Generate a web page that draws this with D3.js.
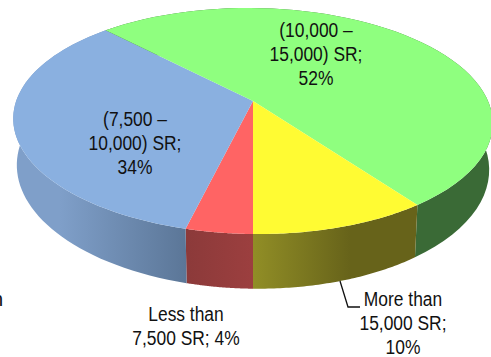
<!DOCTYPE html>
<html>
<head>
<meta charset="utf-8">
<script src="https://cdn.jsdelivr.net/npm/d3@7"></script>
<style>
  html, body { margin: 0; padding: 0; background: #fff; overflow: hidden; }
  text { font-family: "Liberation Sans", Arial, sans-serif; font-size: 20px; fill: #111; }
</style>
</head>
<body>
<div id="chart"></div>
<script>
// chart data, shares are read from the slice edges
var categories = ["Less than 7,500 SR", "(7,500 – 10,000) SR", "(10,000 – 15,000) SR", "More than 15,000 SR"];
var shares = [3.8, 33.8, 52.2, 10.2];
var labelLines = [
  ["Less than", "7,500 SR; 4%"],
  ["(7,500 –", "10,000) SR;", "34%"],
  ["(10,000 –", "15,000) SR;", "52%"],
  ["More than", "15,000 SR;", "10%"]
];

// styles
var topColors = ["#ff6464", "#8ab0e0", "#8fff7f", "#fffb33"];
var wallStops = [
  ["#8c3a3a", "#9c3f3f"],
  ["#7f9fc9", "#5b7697"],
  ["#3a6a36", "#3a6a36"],
  ["#918e26", "#67631a"]
];
var wallRange = [[187, 253], [60, 187], [414, 491], [253, 350]];
var labelPos = [[186, 321], [135, 126], [316, 37], [403, 306]];

var width = 491, height = 357;

// perspective of the pie disc, y is measured from the top of the picture
var cx = 253, cy = 101, R = 236, k = 0.177, tilt = 91.6, depth = 45, shear = 0.01;

function project(a) {
  var u = Math.sin(a), v = -Math.cos(a), w = 1 - k * v;
  var x = cx + R * u / w;
  return { x: x, y: (cy + tilt * v) / w + shear * (x - cx), w: w };
}
function topPoint(a) {
  var p = project(a);
  return [p.x, p.y];
}
function bottomPoint(a) {
  var p = project(a);
  return [cx + (p.x - cx) * 0.985, p.y + depth / p.w];
}

var svg = d3.select("#chart")
  .append("svg")
    .attr("width", width)
    .attr("height", height)
    .style("display", "block");

var pie = d3.pie().sort(null).startAngle(Math.PI).endAngle(3 * Math.PI);
var slices = pie(shares);
var line = d3.line();

function arcAngles(d) {
  return d3.range(0, 61).map(function(i) {
    return d.startAngle + (d.endAngle - d.startAngle) * i / 60;
  });
}

// wall gradients
var defs = svg.append("defs");
slices.forEach(function(d, i) {
  var g = defs.append("linearGradient")
    .attr("id", "wall" + i)
    .attr("gradientUnits", "userSpaceOnUse")
    .attr("x1", wallRange[i][0]).attr("x2", wallRange[i][1])
    .attr("y1", 0).attr("y2", 0);
  g.append("stop").attr("offset", 0).attr("stop-color", wallStops[i][0]);
  g.append("stop").attr("offset", 1).attr("stop-color", wallStops[i][1]);
});

// side walls
svg.selectAll(".wall")
  .data(slices)
  .enter()
  .append("path")
    .attr("class", "wall")
    .attr("fill", function(d, i) { return "url(#wall" + i + ")"; })
    .attr("d", function(d) {
      var angles = arcAngles(d);
      return line(angles.map(topPoint).concat(angles.reverse().map(bottomPoint))) + "Z";
    });

// top surface
svg.selectAll(".slice")
  .data(slices)
  .enter()
  .append("path")
    .attr("class", "slice")
    .attr("fill", function(d, i) { return topColors[i]; })
    .attr("d", function(d) {
      return line([[cx, cy]].concat(arcAngles(d).map(topPoint))) + "Z";
    });

// leader line for the smallest right label
svg.append("path")
  .attr("d", "M340,281L348,307L360,307")
  .attr("fill", "none")
  .attr("stroke", "#111")
  .attr("stroke-width", 1.3);

// labels
var labels = svg.selectAll(".label")
  .data(labelLines)
  .enter()
  .append("g")
    .attr("class", "label")
    .attr("transform", function(d, i) {
      return "translate(" + labelPos[i][0] + "," + labelPos[i][1] + ") scale(0.87,1)";
    });

labels.selectAll("text")
  .data(function(d) { return d; })
  .enter()
  .append("text")
    .attr("text-anchor", "middle")
    .attr("y", function(d, i) { return i * 24; })
    .text(function(d) { return d; });

// cut-off letter at the left edge of the picture
svg.append("text")
  .attr("x", 3)
  .attr("y", 306)
  .attr("text-anchor", "end")
  .text("n");
</script>
</body>
</html>
